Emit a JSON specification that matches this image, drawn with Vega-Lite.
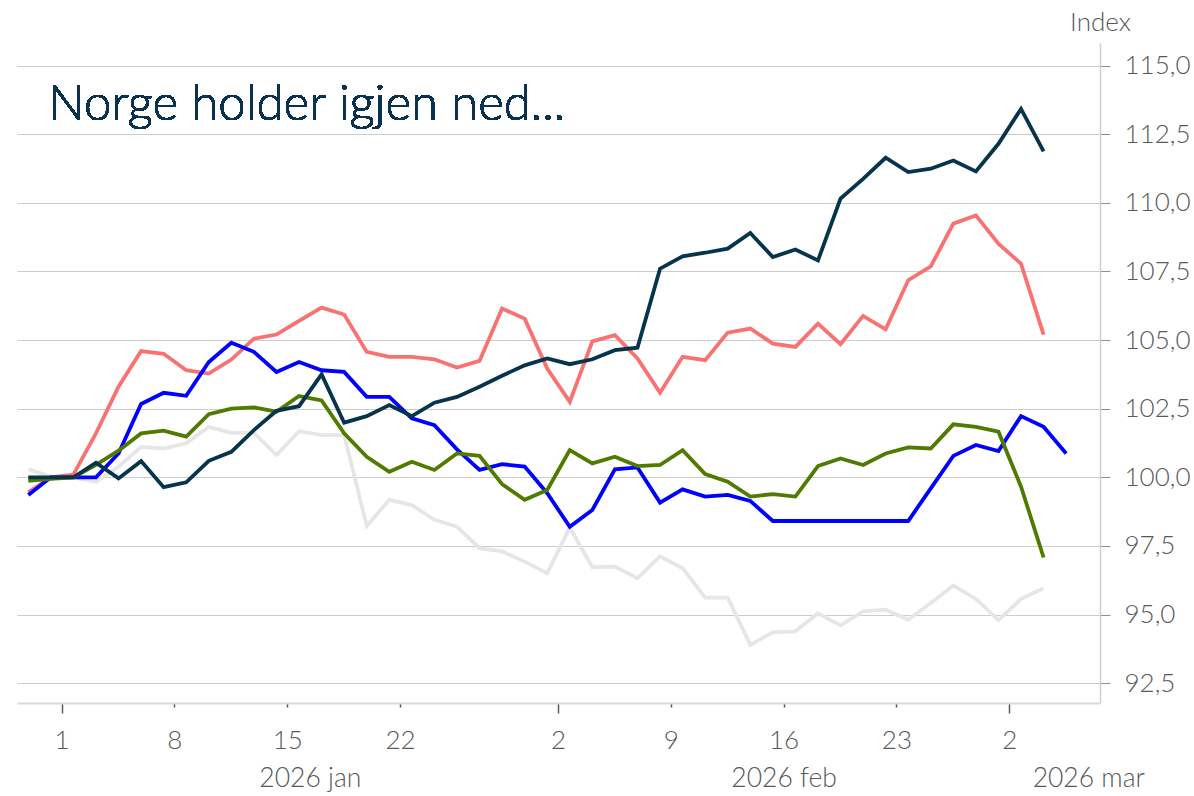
{
  "$schema": "https://vega.github.io/schema/vega-lite/v6.json",
  "width": 1083,
  "height": 660,
  "autosize": {"type": "none"},
  "padding": {"left": 17, "top": 43, "right": 94, "bottom": 93},
  "background": "white",
  "config": {"view": {"stroke": null}, "font": "Lato"},
  "datasets": {
    "series": [
      {"d": "2025-12-30", "s": "grå", "v": 100.3},
      {"d": "2025-12-31", "s": "grå", "v": 100.02},
      {"d": "2026-01-01", "s": "grå", "v": 100.0},
      {"d": "2026-01-02", "s": "grå", "v": 99.84},
      {"d": "2026-01-05", "s": "grå", "v": 100.39},
      {"d": "2026-01-06", "s": "grå", "v": 101.11},
      {"d": "2026-01-07", "s": "grå", "v": 101.05},
      {"d": "2026-01-08", "s": "grå", "v": 101.24},
      {"d": "2026-01-09", "s": "grå", "v": 101.84},
      {"d": "2026-01-12", "s": "grå", "v": 101.62},
      {"d": "2026-01-13", "s": "grå", "v": 101.62},
      {"d": "2026-01-14", "s": "grå", "v": 100.81},
      {"d": "2026-01-15", "s": "grå", "v": 101.68},
      {"d": "2026-01-16", "s": "grå", "v": 101.54},
      {"d": "2026-01-19", "s": "grå", "v": 101.54},
      {"d": "2026-01-20", "s": "grå", "v": 98.23},
      {"d": "2026-01-21", "s": "grå", "v": 99.18},
      {"d": "2026-01-22", "s": "grå", "v": 98.99},
      {"d": "2026-01-23", "s": "grå", "v": 98.45},
      {"d": "2026-01-26", "s": "grå", "v": 98.2},
      {"d": "2026-01-27", "s": "grå", "v": 97.42},
      {"d": "2026-01-28", "s": "grå", "v": 97.3},
      {"d": "2026-01-29", "s": "grå", "v": 96.93},
      {"d": "2026-01-30", "s": "grå", "v": 96.51},
      {"d": "2026-02-02", "s": "grå", "v": 98.17},
      {"d": "2026-02-03", "s": "grå", "v": 96.73},
      {"d": "2026-02-04", "s": "grå", "v": 96.75},
      {"d": "2026-02-05", "s": "grå", "v": 96.33},
      {"d": "2026-02-06", "s": "grå", "v": 97.12},
      {"d": "2026-02-09", "s": "grå", "v": 96.69},
      {"d": "2026-02-10", "s": "grå", "v": 95.62},
      {"d": "2026-02-11", "s": "grå", "v": 95.62},
      {"d": "2026-02-12", "s": "grå", "v": 93.9},
      {"d": "2026-02-13", "s": "grå", "v": 94.35},
      {"d": "2026-02-16", "s": "grå", "v": 94.39},
      {"d": "2026-02-17", "s": "grå", "v": 95.05},
      {"d": "2026-02-18", "s": "grå", "v": 94.61},
      {"d": "2026-02-19", "s": "grå", "v": 95.12},
      {"d": "2026-02-20", "s": "grå", "v": 95.18},
      {"d": "2026-02-23", "s": "grå", "v": 94.81},
      {"d": "2026-02-24", "s": "grå", "v": 95.42},
      {"d": "2026-02-25", "s": "grå", "v": 96.06},
      {"d": "2026-02-26", "s": "grå", "v": 95.57},
      {"d": "2026-02-27", "s": "grå", "v": 94.8},
      {"d": "2026-03-02", "s": "grå", "v": 95.57},
      {"d": "2026-03-03", "s": "grå", "v": 95.96},

      {"d": "2025-12-30", "s": "rosa", "v": 99.45},
      {"d": "2025-12-31", "s": "rosa", "v": 100.0},
      {"d": "2026-01-01", "s": "rosa", "v": 100.1},
      {"d": "2026-01-02", "s": "rosa", "v": 101.6},
      {"d": "2026-01-05", "s": "rosa", "v": 103.3},
      {"d": "2026-01-06", "s": "rosa", "v": 104.6},
      {"d": "2026-01-07", "s": "rosa", "v": 104.5},
      {"d": "2026-01-08", "s": "rosa", "v": 103.9},
      {"d": "2026-01-09", "s": "rosa", "v": 103.78},
      {"d": "2026-01-12", "s": "rosa", "v": 104.29},
      {"d": "2026-01-13", "s": "rosa", "v": 105.05},
      {"d": "2026-01-14", "s": "rosa", "v": 105.2},
      {"d": "2026-01-15", "s": "rosa", "v": 105.7},
      {"d": "2026-01-16", "s": "rosa", "v": 106.18},
      {"d": "2026-01-19", "s": "rosa", "v": 105.93},
      {"d": "2026-01-20", "s": "rosa", "v": 104.57},
      {"d": "2026-01-21", "s": "rosa", "v": 104.39},
      {"d": "2026-01-22", "s": "rosa", "v": 104.39},
      {"d": "2026-01-23", "s": "rosa", "v": 104.3},
      {"d": "2026-01-26", "s": "rosa", "v": 104.0},
      {"d": "2026-01-27", "s": "rosa", "v": 104.24},
      {"d": "2026-01-28", "s": "rosa", "v": 106.15},
      {"d": "2026-01-29", "s": "rosa", "v": 105.78},
      {"d": "2026-01-30", "s": "rosa", "v": 103.96},
      {"d": "2026-02-02", "s": "rosa", "v": 102.75},
      {"d": "2026-02-03", "s": "rosa", "v": 104.95},
      {"d": "2026-02-04", "s": "rosa", "v": 105.18},
      {"d": "2026-02-05", "s": "rosa", "v": 104.33},
      {"d": "2026-02-06", "s": "rosa", "v": 103.08},
      {"d": "2026-02-09", "s": "rosa", "v": 104.39},
      {"d": "2026-02-10", "s": "rosa", "v": 104.27},
      {"d": "2026-02-11", "s": "rosa", "v": 105.27},
      {"d": "2026-02-12", "s": "rosa", "v": 105.42},
      {"d": "2026-02-13", "s": "rosa", "v": 104.87},
      {"d": "2026-02-16", "s": "rosa", "v": 104.75},
      {"d": "2026-02-17", "s": "rosa", "v": 105.6},
      {"d": "2026-02-18", "s": "rosa", "v": 104.85},
      {"d": "2026-02-19", "s": "rosa", "v": 105.88},
      {"d": "2026-02-20", "s": "rosa", "v": 105.39},
      {"d": "2026-02-23", "s": "rosa", "v": 107.18},
      {"d": "2026-02-24", "s": "rosa", "v": 107.68},
      {"d": "2026-02-25", "s": "rosa", "v": 109.24},
      {"d": "2026-02-26", "s": "rosa", "v": 109.54},
      {"d": "2026-02-27", "s": "rosa", "v": 108.51},
      {"d": "2026-03-02", "s": "rosa", "v": 107.78},
      {"d": "2026-03-03", "s": "rosa", "v": 105.2},

      {"d": "2025-12-30", "s": "blå", "v": 99.36},
      {"d": "2025-12-31", "s": "blå", "v": 100.0},
      {"d": "2026-01-01", "s": "blå", "v": 100.0},
      {"d": "2026-01-02", "s": "blå", "v": 100.0},
      {"d": "2026-01-05", "s": "blå", "v": 100.87},
      {"d": "2026-01-06", "s": "blå", "v": 102.67},
      {"d": "2026-01-07", "s": "blå", "v": 103.08},
      {"d": "2026-01-08", "s": "blå", "v": 102.97},
      {"d": "2026-01-09", "s": "blå", "v": 104.2},
      {"d": "2026-01-12", "s": "blå", "v": 104.9},
      {"d": "2026-01-13", "s": "blå", "v": 104.57},
      {"d": "2026-01-14", "s": "blå", "v": 103.84},
      {"d": "2026-01-15", "s": "blå", "v": 104.2},
      {"d": "2026-01-16", "s": "blå", "v": 103.9},
      {"d": "2026-01-19", "s": "blå", "v": 103.84},
      {"d": "2026-01-20", "s": "blå", "v": 102.93},
      {"d": "2026-01-21", "s": "blå", "v": 102.93},
      {"d": "2026-01-22", "s": "blå", "v": 102.15},
      {"d": "2026-01-23", "s": "blå", "v": 101.9},
      {"d": "2026-01-26", "s": "blå", "v": 101.02},
      {"d": "2026-01-27", "s": "blå", "v": 100.27},
      {"d": "2026-01-28", "s": "blå", "v": 100.48},
      {"d": "2026-01-29", "s": "blå", "v": 100.39},
      {"d": "2026-01-30", "s": "blå", "v": 99.42},
      {"d": "2026-02-02", "s": "blå", "v": 98.2},
      {"d": "2026-02-03", "s": "blå", "v": 98.81},
      {"d": "2026-02-04", "s": "blå", "v": 100.29},
      {"d": "2026-02-05", "s": "blå", "v": 100.36},
      {"d": "2026-02-06", "s": "blå", "v": 99.08},
      {"d": "2026-02-09", "s": "blå", "v": 99.56},
      {"d": "2026-02-10", "s": "blå", "v": 99.3},
      {"d": "2026-02-11", "s": "blå", "v": 99.36},
      {"d": "2026-02-12", "s": "blå", "v": 99.14},
      {"d": "2026-02-13", "s": "blå", "v": 98.41},
      {"d": "2026-02-16", "s": "blå", "v": 98.41},
      {"d": "2026-02-17", "s": "blå", "v": 98.41},
      {"d": "2026-02-18", "s": "blå", "v": 98.41},
      {"d": "2026-02-19", "s": "blå", "v": 98.41},
      {"d": "2026-02-20", "s": "blå", "v": 98.41},
      {"d": "2026-02-23", "s": "blå", "v": 98.41},
      {"d": "2026-02-24", "s": "blå", "v": 99.6},
      {"d": "2026-02-25", "s": "blå", "v": 100.78},
      {"d": "2026-02-26", "s": "blå", "v": 101.18},
      {"d": "2026-02-27", "s": "blå", "v": 100.96},
      {"d": "2026-03-02", "s": "blå", "v": 102.23},
      {"d": "2026-03-03", "s": "blå", "v": 101.84},
      {"d": "2026-03-04", "s": "blå", "v": 100.87},

      {"d": "2025-12-30", "s": "grønn", "v": 99.87},
      {"d": "2025-12-31", "s": "grønn", "v": 99.94},
      {"d": "2026-01-01", "s": "grønn", "v": 100.0},
      {"d": "2026-01-02", "s": "grønn", "v": 100.45},
      {"d": "2026-01-05", "s": "grønn", "v": 100.97},
      {"d": "2026-01-06", "s": "grønn", "v": 101.6},
      {"d": "2026-01-07", "s": "grønn", "v": 101.7},
      {"d": "2026-01-08", "s": "grønn", "v": 101.48},
      {"d": "2026-01-09", "s": "grønn", "v": 102.3},
      {"d": "2026-01-12", "s": "grønn", "v": 102.5},
      {"d": "2026-01-13", "s": "grønn", "v": 102.55},
      {"d": "2026-01-14", "s": "grønn", "v": 102.39},
      {"d": "2026-01-15", "s": "grønn", "v": 102.96},
      {"d": "2026-01-16", "s": "grønn", "v": 102.8},
      {"d": "2026-01-19", "s": "grønn", "v": 101.6},
      {"d": "2026-01-20", "s": "grønn", "v": 100.75},
      {"d": "2026-01-21", "s": "grønn", "v": 100.2},
      {"d": "2026-01-22", "s": "grønn", "v": 100.57},
      {"d": "2026-01-23", "s": "grønn", "v": 100.27},
      {"d": "2026-01-26", "s": "grønn", "v": 100.87},
      {"d": "2026-01-27", "s": "grønn", "v": 100.78},
      {"d": "2026-01-28", "s": "grønn", "v": 99.75},
      {"d": "2026-01-29", "s": "grønn", "v": 99.18},
      {"d": "2026-01-30", "s": "grønn", "v": 99.54},
      {"d": "2026-02-02", "s": "grønn", "v": 100.99},
      {"d": "2026-02-03", "s": "grønn", "v": 100.51},
      {"d": "2026-02-04", "s": "grønn", "v": 100.75},
      {"d": "2026-02-05", "s": "grønn", "v": 100.41},
      {"d": "2026-02-06", "s": "grønn", "v": 100.45},
      {"d": "2026-02-09", "s": "grønn", "v": 100.99},
      {"d": "2026-02-10", "s": "grønn", "v": 100.12},
      {"d": "2026-02-11", "s": "grønn", "v": 99.84},
      {"d": "2026-02-12", "s": "grønn", "v": 99.3},
      {"d": "2026-02-13", "s": "grønn", "v": 99.39},
      {"d": "2026-02-16", "s": "grønn", "v": 99.3},
      {"d": "2026-02-17", "s": "grønn", "v": 100.41},
      {"d": "2026-02-18", "s": "grønn", "v": 100.69},
      {"d": "2026-02-19", "s": "grønn", "v": 100.45},
      {"d": "2026-02-20", "s": "grønn", "v": 100.87},
      {"d": "2026-02-23", "s": "grønn", "v": 101.09},
      {"d": "2026-02-24", "s": "grønn", "v": 101.05},
      {"d": "2026-02-25", "s": "grønn", "v": 101.93},
      {"d": "2026-02-26", "s": "grønn", "v": 101.84},
      {"d": "2026-02-27", "s": "grønn", "v": 101.66},
      {"d": "2026-03-02", "s": "grønn", "v": 99.66},
      {"d": "2026-03-03", "s": "grønn", "v": 97.08},

      {"d": "2025-12-30", "s": "mørkeblå", "v": 100.0},
      {"d": "2025-12-31", "s": "mørkeblå", "v": 100.0},
      {"d": "2026-01-01", "s": "mørkeblå", "v": 100.0},
      {"d": "2026-01-02", "s": "mørkeblå", "v": 100.53},
      {"d": "2026-01-05", "s": "mørkeblå", "v": 99.96},
      {"d": "2026-01-06", "s": "mørkeblå", "v": 100.59},
      {"d": "2026-01-07", "s": "mørkeblå", "v": 99.64},
      {"d": "2026-01-08", "s": "mørkeblå", "v": 99.82},
      {"d": "2026-01-09", "s": "mørkeblå", "v": 100.6},
      {"d": "2026-01-12", "s": "mørkeblå", "v": 100.93},
      {"d": "2026-01-13", "s": "mørkeblå", "v": 101.72},
      {"d": "2026-01-14", "s": "mørkeblå", "v": 102.42},
      {"d": "2026-01-15", "s": "mørkeblå", "v": 102.59},
      {"d": "2026-01-16", "s": "mørkeblå", "v": 103.75},
      {"d": "2026-01-19", "s": "mørkeblå", "v": 101.99},
      {"d": "2026-01-20", "s": "mørkeblå", "v": 102.23},
      {"d": "2026-01-21", "s": "mørkeblå", "v": 102.63},
      {"d": "2026-01-22", "s": "mørkeblå", "v": 102.23},
      {"d": "2026-01-23", "s": "mørkeblå", "v": 102.72},
      {"d": "2026-01-26", "s": "mørkeblå", "v": 102.93},
      {"d": "2026-01-27", "s": "mørkeblå", "v": 103.3},
      {"d": "2026-01-28", "s": "mørkeblå", "v": 103.7},
      {"d": "2026-01-29", "s": "mørkeblå", "v": 104.08},
      {"d": "2026-01-30", "s": "mørkeblå", "v": 104.33},
      {"d": "2026-02-02", "s": "mørkeblå", "v": 104.12},
      {"d": "2026-02-03", "s": "mørkeblå", "v": 104.3},
      {"d": "2026-02-04", "s": "mørkeblå", "v": 104.63},
      {"d": "2026-02-05", "s": "mørkeblå", "v": 104.72},
      {"d": "2026-02-06", "s": "mørkeblå", "v": 107.6},
      {"d": "2026-02-09", "s": "mørkeblå", "v": 108.05},
      {"d": "2026-02-10", "s": "mørkeblå", "v": 108.18},
      {"d": "2026-02-11", "s": "mørkeblå", "v": 108.33},
      {"d": "2026-02-12", "s": "mørkeblå", "v": 108.9},
      {"d": "2026-02-13", "s": "mørkeblå", "v": 108.02},
      {"d": "2026-02-16", "s": "mørkeblå", "v": 108.3},
      {"d": "2026-02-17", "s": "mørkeblå", "v": 107.9},
      {"d": "2026-02-18", "s": "mørkeblå", "v": 110.15},
      {"d": "2026-02-19", "s": "mørkeblå", "v": 110.87},
      {"d": "2026-02-20", "s": "mørkeblå", "v": 111.64},
      {"d": "2026-02-23", "s": "mørkeblå", "v": 111.12},
      {"d": "2026-02-24", "s": "mørkeblå", "v": 111.24},
      {"d": "2026-02-25", "s": "mørkeblå", "v": 111.54},
      {"d": "2026-02-26", "s": "mørkeblå", "v": 111.14},
      {"d": "2026-02-27", "s": "mørkeblå", "v": 112.15},
      {"d": "2026-03-02", "s": "mørkeblå", "v": 113.42},
      {"d": "2026-03-03", "s": "mørkeblå", "v": 111.87}
    ]
  },
  "data": {"name": "series"},
  "layer": [
    {
      "mark": {"type": "line", "strokeWidth": 3.8},
      "encoding": {
        "x": {
          "field": "d", "type": "ordinal", "bandPosition": 0.5,
          "scale": {"type": "band", "paddingInner": 0, "paddingOuter": 0, "domain": ["2025-12-30","2025-12-31","2026-01-01","2026-01-02","2026-01-05","2026-01-06","2026-01-07","2026-01-08","2026-01-09","2026-01-12","2026-01-13","2026-01-14","2026-01-15","2026-01-16","2026-01-19","2026-01-20","2026-01-21","2026-01-22","2026-01-23","2026-01-26","2026-01-27","2026-01-28","2026-01-29","2026-01-30","2026-02-02","2026-02-03","2026-02-04","2026-02-05","2026-02-06","2026-02-09","2026-02-10","2026-02-11","2026-02-12","2026-02-13","2026-02-16","2026-02-17","2026-02-18","2026-02-19","2026-02-20","2026-02-23","2026-02-24","2026-02-25","2026-02-26","2026-02-27","2026-03-02","2026-03-03","2026-03-04","2026-03-05"]},
          "axis": {
            "orient": "bottom",
            "title": null,
            "values": ["2026-01-01","2026-01-08","2026-01-15","2026-01-22","2026-02-02","2026-02-09","2026-02-16","2026-02-23","2026-03-02"],
            "labelExpr": "toNumber(substring(datum.value, 8, 10))",
            "bandPosition": 0,
            "labelOffset": -11.3,
            "labelAngle": 0,
            "labelFont": "Lato",
            "labelFontWeight": 300,
            "labelFontSize": 26,
            "labelColor": "#595959",
            "labelPadding": {"condition": {"test": "indexof(['2026-01-01','2026-02-02','2026-03-02'], datum.value) >= 0", "value": 14}, "value": 20},
            "tickColor": "#595959",
            "tickWidth": 1.5,
            "tickSize": {"condition": {"test": "indexof(['2026-01-01','2026-02-02','2026-03-02'], datum.value) >= 0", "value": 10}, "value": 4},
            "domainColor": "#d9d9d9",
            "domainWidth": 2,
            "grid": false
          }
        },
        "y": {
          "field": "v", "type": "quantitative",
          "scale": {"domain": [91.78, 115.82], "nice": false, "zero": false},
          "axis": {
            "orient": "right",
            "values": [92.5, 95, 97.5, 100, 102.5, 105, 107.5, 110, 112.5, 115],
            "format": ".1f",
            "labelExpr": "replace(datum.label, '.', ',')",
            "title": "Index",
            "titleAngle": 0,
            "titleX": 0,
            "titleY": -21,
            "titleAlign": "center",
            "titleBaseline": "middle",
            "titleFont": "Lato",
            "titleFontSize": 26,
            "titleFontWeight": 300,
            "titleColor": "#595959",
            "labelFont": "Lato",
            "labelFontWeight": 300,
            "labelFontSize": 26,
            "labelColor": "#595959",
            "labelPadding": 14,
            "tickSize": 10,
            "tickColor": "#8c8c8c",
            "domainColor": "#d0d0d0",
            "domainWidth": 1.5,
            "grid": true,
            "gridColor": "#cccccc",
            "gridWidth": 1
          }
        },
        "color": {
          "field": "s", "type": "nominal", "legend": null,
          "scale": {"domain": ["grå","rosa","blå","grønn","mørkeblå"], "range": ["#e6e6e6","#f87272","#0000ff","#4f7b00","#06344d"]}
        }
      }
    },
    {
      "mark": {"type": "line", "opacity": 0},
      "encoding": {
        "x": {
          "field": "d", "type": "ordinal", "bandPosition": 0.5,
          "axis": {
            "orient": "bottom",
            "title": null,
            "values": ["2026-01-16","2026-02-16","2026-03-05"],
            "labelExpr": "datum.value == '2026-01-16' ? '2026 jan' : (datum.value == '2026-02-16' ? '2026 feb' : '2026 mar')",
            "bandPosition": 0,
            "labelOffset": {"condition": {"test": "datum.value == '2026-03-05'", "value": 0}, "value": -11.3},
            "labelAngle": 0,
            "labelFont": "Lato",
            "labelFontWeight": 300,
            "labelFontSize": 26.5,
            "labelColor": "#595959",
            "labelPadding": 62,
            "ticks": false,
            "domain": false,
            "grid": false
          }
        },
        "y": {"field": "v", "type": "quantitative"},
        "detail": {"field": "s"}
      }
    },
    {
      "mark": {"type": "text", "text": "Norge holder igjen ned...", "font": "Lato", "fontSize": 49, "fontWeight": 300, "color": "#0a3350", "align": "left", "baseline": "alphabetic"},
      "encoding": {
        "x": {"datum": "2025-12-31", "type": "ordinal", "bandPosition": 0.37, "axis": null},
        "y": {"datum": 113, "type": "quantitative"}
      }
    }
  ],
  "resolve": {"axis": {"x": "independent"}}
}
